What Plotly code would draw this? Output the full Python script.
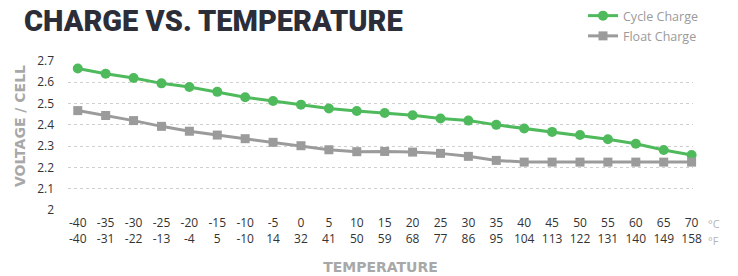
import plotly.graph_objects as go

temps_c = [-40, -35, -30, -25, -20, -15, -10, -5, 0, 5, 10, 15, 20, 25, 30, 35, 40, 45, 50, 55, 60, 65, 70]
temps_f_labels = ["-40", "-31", "-22", "-13", "-4", "5", "-10", "14", "32", "41", "50", "59", "68", "77", "86", "95",
                  "104", "113", "122", "131", "140", "149", "158"]
cycle_charge = [2.665, 2.64, 2.62, 2.595, 2.578, 2.555, 2.53, 2.512, 2.495, 2.477, 2.465, 2.456, 2.445, 2.43,
                2.42, 2.40, 2.383, 2.367, 2.352, 2.332, 2.311, 2.282, 2.258]
float_charge = [2.467, 2.444, 2.42, 2.393, 2.37, 2.352, 2.335, 2.318, 2.302, 2.283, 2.274, 2.275, 2.272, 2.266,
                2.252, 2.233, 2.225, 2.225, 2.225, 2.225, 2.225, 2.225, 2.225]
y_ticks = [2, 2.1, 2.2, 2.3, 2.4, 2.5, 2.6, 2.7]
y_tick_labels = ["2", "2.1", "2.2", "2.3", "2.4", "2.5", "2.6", "2.7"]

GREEN = "#4fba5c"
GRAY = "#9b9b9b"

W, H = 738, 276
L, R, T, B = 68, 45, 61, 66
PW, PH = W - L - R, H - T - B

fig = go.Figure()
fig.add_trace(go.Scatter(
    x=temps_c, y=cycle_charge, name="Cycle Charge", mode="lines+markers", legendgroup="a",
    line=dict(color=GREEN, width=3), marker=dict(color=GREEN, size=10, symbol="circle"),
    cliponaxis=False,
))
fig.add_trace(go.Scatter(
    x=temps_c, y=float_charge, name="Float Charge", mode="lines+markers", legendgroup="b",
    line=dict(color=GRAY, width=3), marker=dict(color=GRAY, size=9, symbol="square"),
    cliponaxis=False,
))

fig.update_layout(
    width=W, height=H,
    margin=dict(l=L, r=R, t=T, b=B, autoexpand=False),
    paper_bgcolor="white", plot_bgcolor="white",
    font=dict(family="Open Sans", size=12, color="#333333"),
    title=dict(text="CHARGE VS. TEMPERATURE", x=24 / W, xref="container", xanchor="left",
               y=1 - 11 / H, yref="container", yanchor="top",
               font=dict(family="Roboto", size=29, color="#2b2e38", weight=900)),
    showlegend=True,
    legend=dict(x=(583 - L) / PW, xanchor="left", y=1 + (T - 1) / PH, yanchor="top",
                bgcolor="rgba(0,0,0,0)",
                font=dict(family="Open Sans", size=12.5, color="#9a9a9a"),
                tracegroupgap=1),
    xaxis=dict(
        range=[-41.75, 70.25], tickmode="array", tickvals=temps_c,
        ticktext=[f"{c}<br>{f}" for c, f in zip(temps_c, temps_f_labels)],
        showgrid=False, zeroline=False, showline=False, ticks="", ticklabelstandoff=4,
        tickfont=dict(family="Open Sans", size=12, color="#333333"),
        title=dict(text="TEMPERATURE", standoff=16,
                   font=dict(family="DejaVu Sans", size=14, color="#a8a8a8", weight=700)),
    ),
    yaxis=dict(
        range=[2, 2.7], tickmode="array", tickvals=y_ticks, ticktext=y_tick_labels,
        showgrid=True, gridcolor="#cfcfcf", griddash="3px,3px", gridwidth=1,
        zeroline=False, showline=False, ticks="", ticklabelstandoff=13,
        tickfont=dict(family="Open Sans", size=12, color="#333333"),
    ),
    annotations=[
        dict(text="VOLTAGE / CELL", textangle=-90, x=(20 - L) / PW, xref="paper",
             y=(H - B - 126) / PH, yref="paper", xanchor="center", yanchor="middle",
             showarrow=False, font=dict(family="DejaVu Sans", size=14, color="#a8a8a8", weight=700)),
        dict(text="°C", x=70, xref="x", xshift=22, y=2, yref="y", yshift=-13, showarrow=False,
             font=dict(family="Open Sans", size=11, color="#b5b5b5")),
        dict(text="°F", x=70, xref="x", xshift=22, y=2, yref="y", yshift=-30, showarrow=False,
             font=dict(family="Open Sans", size=11, color="#b5b5b5")),
    ],
)

fig.write_html("out.html", config={"displayModeBar": False},
               post_script="document.body.style.margin='0';")
